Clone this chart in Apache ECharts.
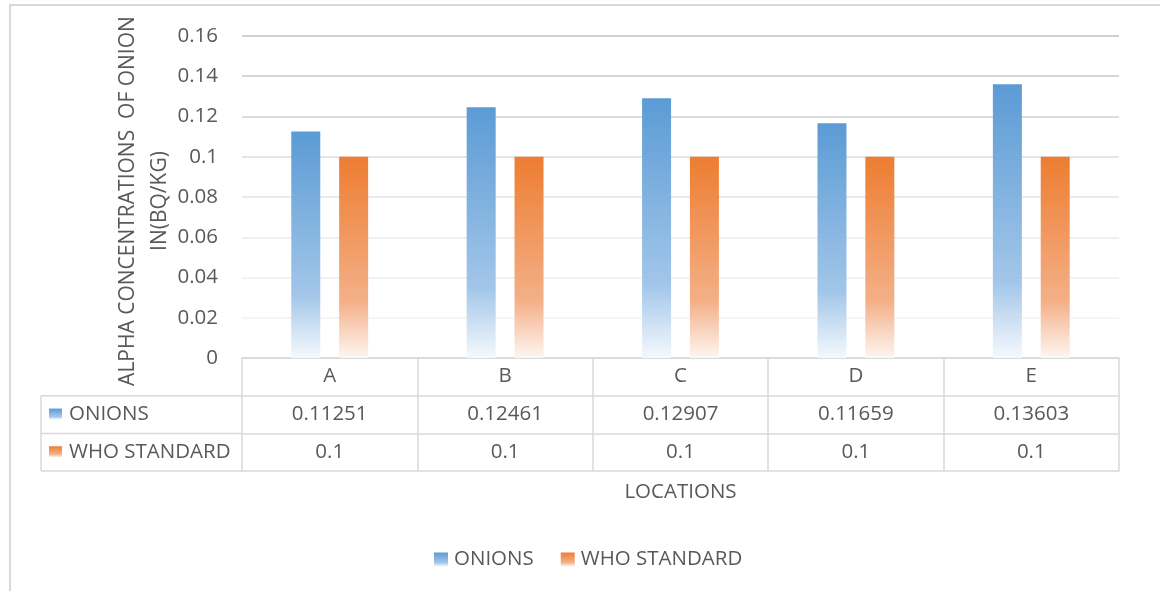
<!DOCTYPE html>
<html>
<head>
<meta charset="utf-8">
<script src="https://cdn.jsdelivr.net/npm/echarts@6/dist/echarts.min.js"></script>
<style>
  html, body { margin: 0; padding: 0; background: #ffffff; }
  #chart { width: 1160px; height: 591px; }
</style>
</head>
<body>
<div id="chart"></div>
<script>
// Locations and measured alpha concentrations (Bq/kg)
const locations = ['A', 'B', 'C', 'D', 'E'];
const onions = [0.11251, 0.12461, 0.12907, 0.11659, 0.13603];
const whoStandard = [0.1, 0.1, 0.1, 0.1, 0.1];
const seriesNames = ['ONIONS', 'WHO STANDARD'];
const yAxisTitle = 'ALPHA CONCENTRATIONS  OF ONION\nIN(BQ/KG)';
const xAxisTitle = 'LOCATIONS';
const yMin = 0, yMax = 0.16, yStep = 0.02;

const FONT = 'Open Sans';
const TEXT = '#595959';
const RULE = '#D9D9D9';
const W = 1160, H = 591;
const GRID = { left: 242, right: 41, top: 36, bottom: 233 };
const ROW = 37.7;            // height of one data-table row
const FS = 20.5;

// gridlines fade from darker at the top to faint near zero
const gridColors = ['#D9D9D9', '#F2F2F2', '#EFEFEF', '#EAEAEA', '#E3E3E3', '#DCDCDC', '#D2D2D2', '#C9C9C9', '#C2C2C2'];

function fadeFill(top, mid, bottom) {
  return new echarts.graphic.LinearGradient(0, 0, 0, 1, [
    { offset: 0, color: top },
    { offset: 0.72, color: mid },
    { offset: 1, color: bottom }
  ]);
}
const blueFill = () => fadeFill('#5B9BD5', '#A2C6E9', '#F5F9FD');
const orangeFill = () => fadeFill('#ED7D31', '#F4B088', '#FDF6F1');

const axisY = H - GRID.bottom;
const fmt = v => String(v);

// extra category axes below the plot carry the data-table rows
function tableAxis(rowIndex, values, extra) {
  return Object.assign({
    type: 'category',
    data: locations,
    position: 'bottom',
    offset: rowIndex * ROW,
    axisLine: { show: true, lineStyle: { color: RULE, width: 1.5 } },
    axisTick: { show: false },
    axisLabel: values ? {
      show: true, interval: 0, margin: 8,
      color: TEXT, fontFamily: FONT, fontSize: FS,
      formatter: (v, i) => fmt(values[i])
    } : { show: false },
    splitLine: { show: false }
  }, extra || {});
}

const chart = echarts.init(document.getElementById('chart'), null, { renderer: 'canvas' });

// left-hand column of the data table (series keys and names)
const tableLeft = 41;
const keyGraphics = [];
[blueFill(), orangeFill()].forEach((fill, i) => {
  const rowTop = axisY + (i + 1) * ROW;
  keyGraphics.push({
    type: 'rect', shape: { x: 49, y: rowTop + ROW / 2 - 6, width: 13, height: 11 },
    style: { fill: fill }, silent: true
  });
  keyGraphics.push({
    type: 'text', x: 69, y: rowTop + ROW / 2,
    style: { text: seriesNames[i], fill: TEXT, font: FS + 'px "' + FONT + '"', verticalAlign: 'middle' }
  });
});
const leftLines = [1, 2, 3].map(k => ({
  type: 'line',
  shape: { x1: tableLeft, y1: axisY + k * ROW, x2: GRID.left, y2: axisY + k * ROW },
  style: { stroke: RULE, lineWidth: 1.5 }
}));
leftLines.push({
  type: 'line',
  shape: { x1: tableLeft, y1: axisY + ROW, x2: tableLeft, y2: axisY + 3 * ROW },
  style: { stroke: RULE, lineWidth: 1.5 }
});

chart.setOption({
  animation: false,
  backgroundColor: '#ffffff',
  textStyle: { fontFamily: FONT },
  grid: { left: GRID.left, right: GRID.right, top: GRID.top, bottom: GRID.bottom, containLabel: false },
  legend: {
    data: seriesNames,
    bottom: 16,
    left: 429,
    icon: 'rect',
    itemWidth: 14, itemHeight: 14, itemGap: 27,
    textStyle: { color: TEXT, fontFamily: FONT, fontSize: 20.5, padding: [0, 0, 0, 1] },
    selectedMode: false
  },
  xAxis: [
    {
      type: 'category',
      data: locations,
      position: 'bottom',
      axisLine: { show: true, lineStyle: { color: RULE, width: 1.5 } },
      axisTick: { show: true, interval: 0, length: 3 * ROW, lineStyle: { color: RULE, width: 1.5 } },
      axisLabel: { interval: 0, margin: 8, color: TEXT, fontFamily: FONT, fontSize: FS },
      splitLine: { show: false }
    },
    tableAxis(1, onions),
    tableAxis(2, whoStandard),
    tableAxis(3, null, {
      name: xAxisTitle, nameLocation: 'middle', nameGap: 11,
      nameTextStyle: { color: TEXT, fontFamily: FONT, fontSize: FS }
    })
  ],
  yAxis: {
    type: 'value',
    min: yMin, max: yMax, interval: yStep,
    axisLine: { show: false },
    axisTick: { show: false },
    axisLabel: { margin: 24, color: TEXT, fontFamily: FONT, fontSize: FS, formatter: v => String(+v.toFixed(2)) },
    splitLine: { show: true, lineStyle: { color: gridColors, width: 1.5 } },
    name: yAxisTitle,
    nameLocation: 'middle',
    nameRotate: 90,
    nameGap: 66,
    nameMoveOverlap: false,
    nameTextStyle: { color: TEXT, fontFamily: FONT, fontSize: 21, lineHeight: 32, align: 'center', padding: [0, 8, 0, 0] }
  },
  series: [
    {
      name: seriesNames[0], type: 'bar', xAxisIndex: 0,
      data: onions, barWidth: 29, barGap: '65%',
      itemStyle: { color: blueFill() }
    },
    {
      name: seriesNames[1], type: 'bar', xAxisIndex: 0,
      data: whoStandard, barWidth: 29,
      itemStyle: { color: orangeFill() }
    }
  ],
  graphic: [
    {
      type: 'rect', z: -1, silent: true,
      shape: { x: 10, y: 5, width: W + 20, height: H + 20 },
      style: { fill: 'none', stroke: RULE, lineWidth: 2 }
    }
  ].concat(leftLines, keyGraphics)
});
</script>
</body>
</html>
